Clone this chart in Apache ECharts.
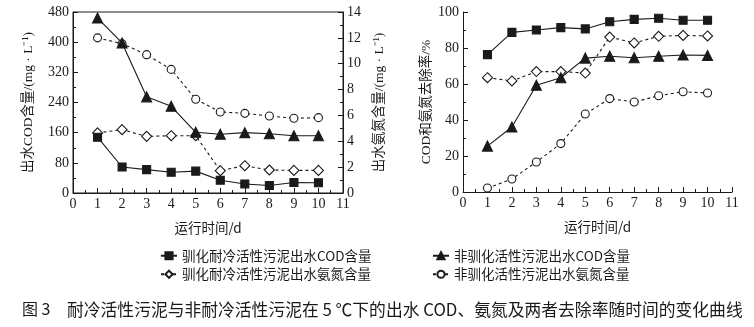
<!DOCTYPE html>
<html><head><meta charset="utf-8">
<script src="https://cdn.jsdelivr.net/npm/echarts@6/dist/echarts.min.js"></script>
<style>html,body{margin:0;padding:0;background:#fff}#c{width:754px;height:327px}</style>
</head><body><div id="c"></div>
<script>
const days = [1,2,3,4,5,6,7,8,9,10];
const xTicks = [0,11,1];
const names = ['驯化耐冷活性污泥出水COD含量','非驯化活性污泥出水COD含量','驯化耐冷活性污泥出水氨氮含量','非驯化活性污泥出水氨氮含量'];
const codAcc = [148, 69, 62, 55, 58, 34, 24, 20, 28, 27];
const codNon = [464, 398, 255, 230, 161, 156, 160, 157, 152, 152];
const nh3Acc = [4.65, 4.9, 4.38, 4.43, 4.43, 1.73, 2.11, 1.78, 1.75, 1.75];
const nh3Non = [12.0, 11.55, 10.7, 9.56, 7.25, 6.27, 6.16, 5.96, 5.78, 5.83];
const remCodAcc = [76.3, 88.7, 90.0, 91.3, 90.6, 94.6, 95.9, 96.5, 95.4, 95.4];
const remCodNon = [25.5, 36.1, 59.3, 63.5, 74.4, 75.4, 74.6, 75.4, 76.1, 75.9];
const remNh3Acc = [63.5, 61.7, 66.9, 66.9, 66.1, 86.1, 82.8, 86.5, 87.0, 86.7];
const remNh3Non = [2.2, 7.2, 16.7, 26.9, 43.3, 51.9, 50.0, 53.5, 55.7, 55.0];
const leftY = [0,480,80];
const rightY = [0,14,2];
const remY = [0,100,20];
const xName = '运行时间/d';
const yNameCod = '出水COD含量/(mg · L⁻¹)';
const yNameNh3 = '出水氨氮含量/(mg · L⁻¹)';
const yNameRem = 'COD和氨氮去除率/%';
const caption1 = '图 3';
const caption2 = '耐冷活性污泥与非耐冷活性污泥在 5 ℃下的出水 COD、氨氮及两者去除率随时间的变化曲线';

const pair = arr => days.map((d,i)=>[d,arr[i]]);
const INK = '#1a1a1a';
const SERIF = '"Liberation Serif","Noto Sans CJK SC",serif';
const CJK = '"Noto Sans CJK SC","Liberation Serif",sans-serif';

function xAxis(gi){
  return {type:'value',gridIndex:gi,min:xTicks[0],max:xTicks[1],interval:xTicks[2],
    name:xName,nameLocation:'middle',nameGap:28,
    nameTextStyle:{fontFamily:CJK,fontSize:13.5,color:INK},
    axisLine:{lineStyle:{color:INK,width:1}},
    axisTick:{inside:true,length:5,lineStyle:{color:INK}},
    minorTick:{show:true,splitNumber:2,length:3,lineStyle:{color:INK}},
    splitLine:{show:false},
    axisLabel:{fontFamily:SERIF,fontSize:14,color:INK,margin:4}};
}
function yAxis(gi,rng,name,pos,gap){
  return {type:'value',gridIndex:gi,position:pos,min:rng[0],max:rng[1],interval:rng[2],
    name:name,nameLocation:'middle',nameGap:gap,nameRotate:90,
    nameTextStyle:{fontFamily:SERIF,fontSize:13.5,color:INK},
    axisLine:{show:true,lineStyle:{color:INK,width:1}},
    axisTick:{show:true,inside:true,length:5,lineStyle:{color:INK}},
    minorTick:{show:true,splitNumber:2,length:3,lineStyle:{color:INK}},
    splitLine:{show:false},
    axisLabel:{fontFamily:SERIF,fontSize:14,color:INK,margin:4}};
}
function ser(name,data,xi,yi,kind){
  const solid = kind==='rect'||kind==='triangle';
  return {name:name,type:'line',xAxisIndex:xi,yAxisIndex:yi,data:pair(data),
    symbol: kind,
    symbolSize: kind==='rect'?8:(kind==='triangle'?10:(kind==='diamond'?10:8)),
    showAllSymbol:true,
    lineStyle:{color:INK,width:1.1,type:solid?'solid':[3,3]},
    itemStyle:{color:solid?INK:'#fff',borderColor:INK,borderWidth:1.1},
    emphasis:{disabled:true},z:solid?3:2};
}
const legendBase = {orient:'vertical',top:244,itemWidth:16,itemHeight:9,itemGap:5,
  textStyle:{fontFamily:CJK,fontSize:13.5,color:INK},selectedMode:false};
const chart = echarts.init(document.getElementById('c'),null,{renderer:'canvas'});
chart.setOption({
  animation:false,
  backgroundColor:'#fff',
  grid:[{left:73,right:411,top:12,bottom:134,show:true,borderColor:INK,borderWidth:1,backgroundColor:'transparent'},
        {left:463,right:22,top:12,bottom:135}],
  xAxis:[xAxis(0),xAxis(1)],
  yAxis:[yAxis(0,leftY,yNameCod,'left',38),yAxis(0,rightY,yNameNh3,'right',30),yAxis(1,remY,yNameRem,'left',30)],
  legend:[
    Object.assign({data:[names[0],names[2]],left:155},legendBase),
    Object.assign({data:[names[1],names[3]],left:427},legendBase)
  ],
  title:[
    {text:caption1,left:17,top:296,textStyle:{fontFamily:CJK,fontSize:16,fontWeight:'normal',color:INK}},
    {text:caption2,left:62,top:296,textStyle:{fontFamily:CJK,fontSize:16.8,fontWeight:'normal',color:INK}}
  ],
  series:[
    ser(names[0],codAcc,0,0,'rect'),
    ser(names[1],codNon,0,0,'triangle'),
    ser(names[2],nh3Acc,0,1,'diamond'),
    ser(names[3],nh3Non,0,1,'circle'),
    ser(names[0],remCodAcc,1,2,'rect'),
    ser(names[1],remCodNon,1,2,'triangle'),
    ser(names[2],remNh3Acc,1,2,'diamond'),
    ser(names[3],remNh3Non,1,2,'circle')
  ]
});
</script></body></html>
